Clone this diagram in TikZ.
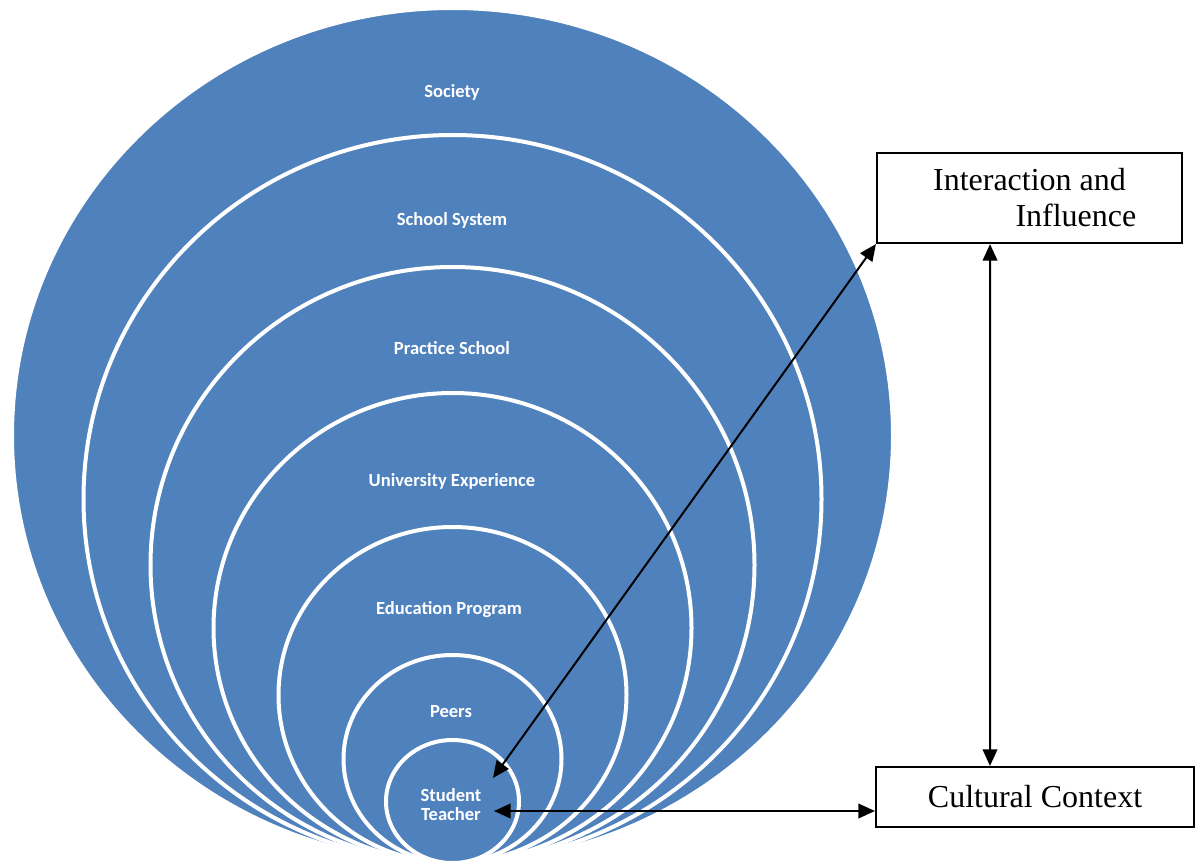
\documentclass[tikz,border=0pt]{standalone}
\usepackage{fontspec}
\setmainfont{Liberation Serif}
\newfontfamily\labelfont{Carlito}
\usetikzlibrary{arrows.meta}
\definecolor{ringblue}{HTML}{4F81BD}
\begin{document}
\begin{tikzpicture}[x=0.75pt,y=-0.75pt,
  ring/.style={fill=ringblue,draw=white,line width=3pt},
  ringlabel/.style={text=white,font=\labelfont\bfseries\fontsize{13.9}{14.5}\selectfont,inner sep=0pt,align=center},
  infobox/.style={draw=black,line width=1.6pt,fill=white,inner sep=0pt,font=\fontsize{24}{27}\selectfont,align=center},
  link/.style={line width=1.5pt,{Triangle[length=12.5pt,width=11pt]}-{Triangle[length=12.5pt,width=11pt]}}
]
\useasboundingbox (0,0) rectangle (1203,866);

% nested rings, all touching at the bottom
\path[ring] (452.5,435.5) ellipse [x radius=440.5,y radius=427.5];
\path[ring] (452.5,499)   ellipse [x radius=369,  y radius=364];
\path[ring] (452.5,565)   ellipse [x radius=302,  y radius=298];
\path[ring] (452.5,628)   ellipse [x radius=239,  y radius=235];
\path[ring] (452.5,695)   ellipse [x radius=174,  y radius=168];
\path[ring] (452.5,759)   ellipse [x radius=109,  y radius=104];
\path[ring] (452.5,801.5) ellipse [x radius=66.5, y radius=61.5];

% ring labels
\node[ringlabel] (society)    at (452,92)  {Society};
\node[ringlabel] (schoolsys)  at (452,220) {School System};
\node[ringlabel] (practice)   at (452,348) {Practice School};
\node[ringlabel] (university) at (452,481) {University Experience};
\node[ringlabel] (education)  at (449,610) {Education Program};
\node[ringlabel] (peers)      at (451,712) {Peers};
\node[ringlabel] (student)    at (451,804.5) {Student\\Teacher};

% side boxes
\node[infobox,minimum width=228.75pt,minimum height=67.5pt] (influence) at (1029.5,198)
  {Interaction and\\\hspace*{2.9em}Influence};
\node[infobox,minimum width=238.5pt,minimum height=45pt] (culture) at (1035,797)
  {Cultural Context};

% connectors
\coordinate (stTop)  at (493,778);
\coordinate (stSide) at (494,811);
\draw[link] (stTop) -- (influence.south west);
\draw[link] ([xshift=-29.6pt]influence.south) -- ([xshift=-33.75pt]culture.north);
\draw[link] (stSide) -- (culture.west |- stSide);
\end{tikzpicture}
\end{document}
